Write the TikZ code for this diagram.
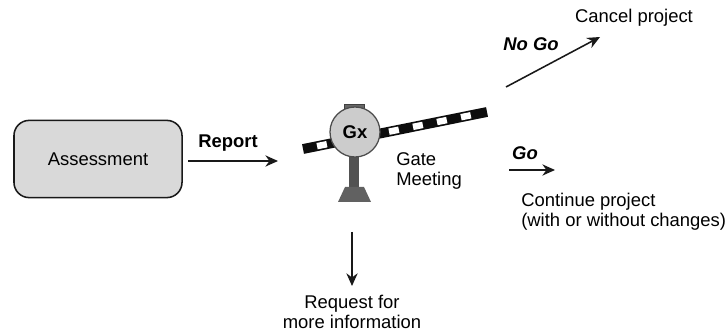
\documentclass[tikz,border=0pt]{standalone}
\usepackage{fontspec}
\setmainfont{Liberation Sans}
\usetikzlibrary{arrows.meta}
\tikzset{
    flowarrow/.style={draw=black!90, line width=1.1pt, -{Stealth[length=9pt,width=8pt]}},
    plainlabel/.style={font=\fontsize{13.1}{14.4}\selectfont, inner sep=0pt},
    boldlabel/.style={font=\fontsize{13.1}{14.4}\selectfont\bfseries, inner sep=0pt},
    gobel/.style={font=\fontsize{13.1}{14.4}\selectfont\bfseries\itshape, inner sep=0pt}
}
\begin{document}
\begin{tikzpicture}[x=0.025cm, y=-0.025cm]
    \useasboundingbox (0, 0) rectangle (728, 333);

    % gate arm
        \draw[line width=7pt, black!95] (303, 149) -- (487, 112);
        \draw[line width=4.6pt, white, dash pattern=on 7.1pt off 10.3pt, dash phase=7.2pt] (303, 149) -- (478, 113.8);

    % gate post
        \fill[black!60, draw=black!75] (344, 104) rectangle (364, 109);
        \fill[black!68] (349, 150) rectangle (359, 187);
        \fill[black!62] (345, 187) -- (364, 187) -- (371, 202) -- (338, 202) -- cycle;
        \node[circle, draw=black!70, fill=black!20, line width=0.9pt, minimum size=1.25cm, inner sep=0pt, font=\fontsize{13.1}{14.4}\selectfont\bfseries] (gate) at (355, 132) {Gx};

    \node[draw=black!90, fill=black!15, line width=1.1pt, rounded corners=0.38cm, minimum width=4.2cm, minimum height=1.93cm, font=\fontsize{13.1}{14.4}\selectfont] (assessment) at (98, 159) {Assessment};

    \node[boldlabel] (report) at (228, 143.5) {Report};
    \node[gobel] (nogo) at (531, 44) {No Go};
    \node[gobel] (go) at (525, 153) {Go};
    \node[plainlabel] (cancel) at (634, 17.5) {Cancel project};
    \node[plainlabel, align=left, anchor=west] (meeting) at (396, 171) {Gate\\Meeting};
    \node[plainlabel, align=left, anchor=west] (continue) at (521, 212) {Continue project\\(with or without changes)};
    \node[plainlabel, align=center] (request) at (352, 312) {Request for\\more information};

    \coordinate (reportstart) at (188, 161);
    \coordinate (reportend) at (278, 161);
    \coordinate (nogostart) at (506, 87);
    \coordinate (nogoend) at (600, 37);
    \coordinate (gostart) at (509, 170);
    \coordinate (goend) at (555, 170);
    \coordinate (requeststart) at (352, 232);
    \coordinate (requestend) at (352, 286);

    \draw[flowarrow] (reportstart) -- (reportend);
    \draw[flowarrow] (nogostart) -- (nogoend);
    \draw[flowarrow] (gostart) -- (goend);
    \draw[flowarrow] (requeststart) -- (requestend);
\end{tikzpicture}
\end{document}
